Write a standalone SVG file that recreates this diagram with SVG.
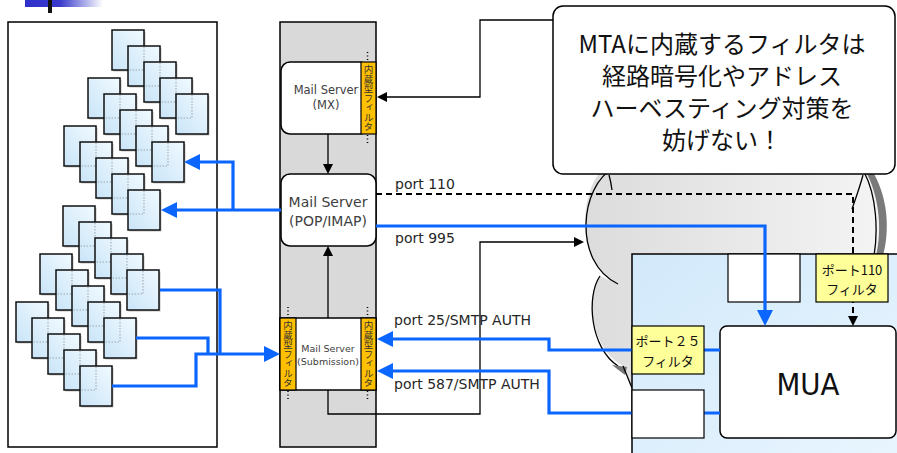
<svg xmlns="http://www.w3.org/2000/svg" xmlns:xlink="http://www.w3.org/1999/xlink" width="897" height="453" viewBox="0 0 897 453">
<defs>
<style>
.ln{fill:none;stroke:#000;stroke-width:1.3}
.dash{fill:none;stroke:#000;stroke-width:2;stroke-dasharray:6 4}
.bl{fill:none;stroke:#0a66ff;stroke-width:3.2}
.box{stroke:#000;stroke-width:1.5}
.lat{font-family:"DejaVu Sans","Liberation Sans",sans-serif}
.jp{font-family:"Noto Sans CJK JP","Noto Sans CJK SC",sans-serif}
.srv{fill:#404040;text-anchor:middle}
.port{font-size:14px;fill:#262626}
.filt{fill:#ffc000;stroke:#000;stroke-width:1.2}
.vt{writing-mode:vertical-rl;font-size:9.5px;fill:#333;text-anchor:middle}
.dot{stroke:#000;stroke-width:1.5;stroke-dasharray:1 2.5;fill:none}
.yb{fill:#ffff99;stroke:#000;stroke-width:1.2}
.yt{font-size:13px;fill:#111;text-anchor:middle}
.wb{fill:#fff;stroke:#000;stroke-width:1.2}
</style>
<linearGradient id="topbar" x1="0" y1="0" x2="1" y2="0">
<stop offset="0" stop-color="#2f2fcc"/><stop offset="0.45" stop-color="#3a3acc"/><stop offset="1" stop-color="#ffffff"/>
</linearGradient>
<linearGradient id="dg" x1="0" y1="1" x2="1" y2="0">
<stop offset="0" stop-color="#c9e5f8"/><stop offset="1" stop-color="#f1f9ff"/>
</linearGradient>
<linearGradient id="cg" x1="0" y1="0" x2="1" y2="0">
<stop offset="0" stop-color="#dcdcdc"/><stop offset="1" stop-color="#f4f4f4"/>
</linearGradient>
<linearGradient id="clg" x1="0" y1="0" x2="1" y2="1">
<stop offset="0" stop-color="#d2e9fa"/><stop offset="1" stop-color="#eaf6ff"/>
</linearGradient>
<marker id="ab" markerUnits="userSpaceOnUse" markerWidth="16" markerHeight="16" refX="12" refY="8" orient="auto">
<path d="M0,0 L16,8 L0,16 Z" fill="#0a66ff"/>
</marker>
<marker id="ak" markerUnits="userSpaceOnUse" markerWidth="10" markerHeight="10" refX="8" refY="5" orient="auto">
<path d="M0,0 L10,5 L0,10 Z" fill="#000"/>
</marker>
<g id="doc">
<rect x="1.5" y="1.5" width="32" height="40" fill="#8c8c8c" opacity="0.55"/>
<rect width="32" height="40" fill="url(#dg)" stroke="#111" stroke-width="1.5"/>
</g>
<g id="docO">
<use xlink:href="#doc"/>
<path d="M16,1 V24 H1" fill="none" stroke="#9aa4ac" stroke-width="1" stroke-dasharray="1.5 1.5"/>
</g>
</defs>

<rect width="897" height="453" fill="#fff"/>

<g id="title-bar">
<rect x="25" y="0" width="78" height="7" fill="url(#topbar)"/>
<rect x="48" y="0" width="4" height="13" fill="#111"/>
</g>

<g id="client-group">
<rect x="8" y="22" width="209" height="425" fill="#fff" class="box"/>
</g>
<g id="stack1">
<use xlink:href="#doc" x="112" y="30"/><use xlink:href="#docO" x="128" y="46"/><use xlink:href="#docO" x="144" y="62"/><use xlink:href="#docO" x="160" y="78"/><use xlink:href="#docO" x="176" y="94"/>
</g>
<g id="stack2">
<use xlink:href="#doc" x="88" y="78"/><use xlink:href="#docO" x="104" y="94"/><use xlink:href="#docO" x="120" y="110"/><use xlink:href="#docO" x="136" y="126"/><use xlink:href="#docO" x="152" y="142"/>
</g>
<g id="stack3">
<use xlink:href="#doc" x="64" y="126"/><use xlink:href="#docO" x="80" y="142"/><use xlink:href="#docO" x="96" y="158"/><use xlink:href="#docO" x="112" y="174"/><use xlink:href="#docO" x="128" y="190"/>
</g>
<g id="stack4">
<use xlink:href="#doc" x="63" y="206"/><use xlink:href="#docO" x="79" y="222"/><use xlink:href="#docO" x="95" y="238"/><use xlink:href="#docO" x="111" y="254"/><use xlink:href="#docO" x="127" y="270"/>
</g>
<g id="stack5">
<use xlink:href="#doc" x="40" y="254"/><use xlink:href="#docO" x="56" y="270"/><use xlink:href="#docO" x="72" y="286"/><use xlink:href="#docO" x="88" y="302"/><use xlink:href="#docO" x="104" y="318"/>
</g>
<g id="stack6">
<use xlink:href="#doc" x="16" y="302"/><use xlink:href="#docO" x="32" y="318"/><use xlink:href="#docO" x="48" y="334"/><use xlink:href="#docO" x="64" y="350"/><use xlink:href="#docO" x="80" y="366"/>
</g>

<g id="server-column">
<rect x="280" y="22" width="96" height="425" fill="#d9d9d9" class="box"/>
</g>

<g id="mx">
<rect x="281" y="62" width="88" height="72" rx="9" fill="#fff" class="box"/>
<rect x="361" y="62" width="15" height="72" class="filt"/>
<text x="368.5" y="98" class="jp vt">内蔵型フィルタ</text>
<path class="dot" d="M367.5,52 V62 M367.5,135 V144"/>
<text class="lat srv" font-size="11.5" x="326" y="94">Mail Server</text>
<text class="lat srv" font-size="11.5" x="326" y="109">(MX)</text>
</g>

<g id="pop">
<rect x="281" y="174" width="95" height="72" rx="9" fill="#fff" class="box"/>
<text class="lat srv" font-size="14" x="328" y="207">Mail Server</text>
<text class="lat srv" font-size="14" x="328" y="226">(POP/IMAP)</text>
</g>

<g id="submission">
<rect x="280" y="318" width="96" height="72" fill="#fff" class="box"/>
<rect x="280" y="318" width="16" height="72" class="filt"/>
<rect x="361" y="318" width="15" height="72" class="filt"/>
<text x="288" y="354" class="jp vt">内蔵型フィルタ</text>
<text x="368.5" y="354" class="jp vt">内蔵型フィルタ</text>
<path class="dot" d="M288,307 V318 M288,391 V401 M367.5,307 V318 M367.5,391 V401"/>
<text class="lat srv" font-size="9.5" x="328" y="352">Mail Server</text>
<text class="lat srv" font-size="9.5" x="328" y="365">(Submission)</text>
</g>

<g id="internet-cloud">
<path d="M607,165 L866,165 C884,200 884,235 876,256 L632,256 L632,388 L623,366 C590,348 586,296 600,276 L618,284 C572,262 580,185 607,165 Z" fill="url(#cg)"/>
<path d="M866,172 C880,198 882,232 876,256 L883,256 C890,230 888,198 873,172 Z" fill="#7a7a7a"/>
<path class="ln" d="M614,168 C580,185 572,262 618,284"/>
<path class="ln" d="M609,175 Q611,182 612,190"/>
<path class="ln" d="M600,276 C586,296 590,348 618,366"/>
<path d="M612,365 L627,367 L625,375 Z" fill="#777"/>
<path class="ln" d="M623,366 L632,388"/>
<path class="ln" d="M864,172 C877,196 878,232 874,256"/>
<path class="ln" d="M863,175 C859,190 855,200 852,209"/>
</g>

<g id="user-pc">
<rect x="632" y="254" width="280" height="220" fill="url(#clg)" class="box"/>
<rect x="728" y="254" width="72" height="48" class="wb"/>
</g>

<g id="mua">
<rect x="720" y="326" width="176" height="112" rx="7" fill="#fff" class="box"/>
<text class="lat" x="808" y="395" font-size="31" fill="#111" text-anchor="middle" textLength="63" lengthAdjust="spacingAndGlyphs">MUA</text>
</g>

<g id="callout">
<rect x="553" y="6" width="342" height="168" rx="10" fill="#fff" class="box"/>
<g class="jp" font-size="24" fill="#111" text-anchor="middle">
<text x="722" y="53">MTAに内蔵するフィルタは</text>
<text x="722" y="85">経路暗号化やアドレス</text>
<text x="722" y="117">ハーベスティング対策を</text>
<text x="722" y="149">妨げない！</text>
</g>
</g>

<g id="connectors">
<path class="ln" d="M553,20 H480 V97 H379" marker-end="url(#ak)"/>
<path class="ln" d="M328,134 V172" marker-end="url(#ak)"/>
<path class="ln" d="M328,318 V248" marker-end="url(#ak)"/>
<path class="ln" d="M328,390 V414 H480 V242 H582" marker-end="url(#ak)"/>
<path class="dash" d="M376,194 H853 V324" marker-end="url(#ak)"/>
<path class="bl" d="M281,210 H165" marker-end="url(#ab)"/>
<path class="bl" d="M233,210 V162 H188" marker-end="url(#ab)"/>
<path class="bl" d="M160,290 H220 V354"/>
<path class="bl" d="M136,338 H208 V354"/>
<path class="bl" d="M112,386 H196 V354 H276" marker-end="url(#ab)"/>
<path class="bl" d="M376,226 H765 V322" marker-end="url(#ab)"/>
<path class="bl" d="M720,350 H549 V339 H381" marker-end="url(#ab)"/>
<path class="bl" d="M720,413 H549 V371 H381" marker-end="url(#ab)"/>
<g class="lat port">
<text x="395" y="189">port 110</text>
<text x="395" y="243">port 995</text>
<text x="394" y="325">port 25/SMTP AUTH</text>
<text x="394" y="389">port 587/SMTP AUTH</text>
</g>
</g>

<g id="port110-filter">
<rect x="816" y="254" width="72" height="48" class="yb"/>
<text class="jp yt" x="852" y="275">ポート110</text>
<text class="jp yt" x="852" y="294">フィルタ</text>
</g>
<g id="port25-filter">
<rect x="632" y="326" width="72" height="48" class="yb"/>
<text class="jp yt" x="668" y="346">ポート２５</text>
<text class="jp yt" x="668" y="366">フィルタ</text>
</g>
<g id="pc-slot">
<rect x="632" y="390" width="72" height="48" class="wb"/>
</g>
</svg>
